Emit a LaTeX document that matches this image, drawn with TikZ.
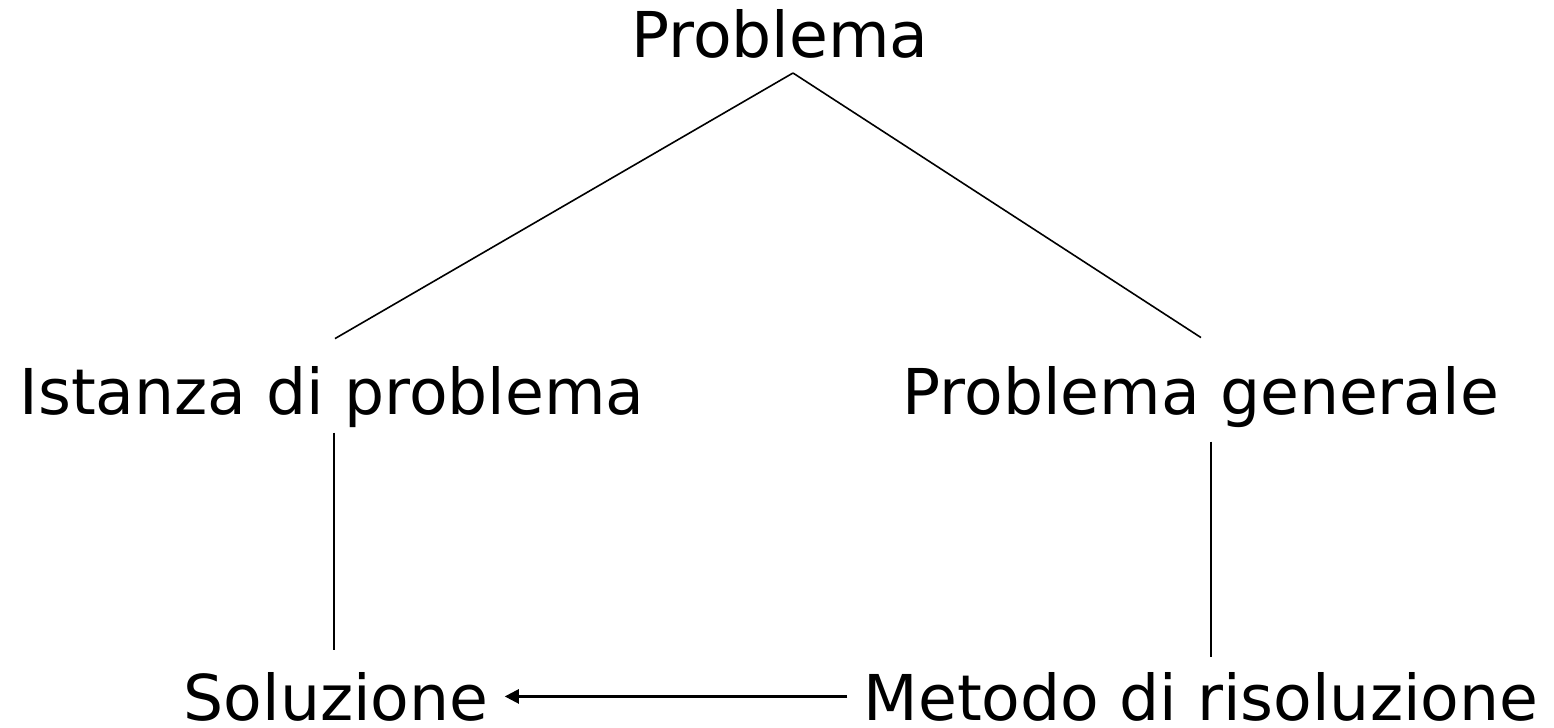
\documentclass[tikz,border=0pt]{standalone}
\usepackage{fontspec}
\setmainfont{DejaVu Sans}
\usetikzlibrary{arrows.meta}
\begin{document}
\begin{tikzpicture}[x=0.5pt, y=-0.5pt,
	lbl/.style={inner sep=0pt, anchor=base, font=\fontsize{31.6}{38}\selectfont},
	link/.style={line width=0.8pt}]
	\useasboundingbox (0,0) rectangle (1554,728);

	\node[lbl] (prob) at (780,57) {Problema};
	\node[lbl] (ist) at (332,414) {Istanza di problema};
	\node[lbl] (gen) at (1201,414) {Problema generale};
	\node[lbl] (sol) at (336,720) {Soluzione};
	\node[lbl] (met) at (1201,720) {Metodo di risoluzione};
	\coordinate (apex) at (793,73);

	\draw[link] (apex) -- ([xshift=1.5pt, yshift=13.5pt]ist.north);
	\draw[link] (apex) -- ([yshift=14pt]gen.north);
	\draw[link, shorten <=2.5pt, shorten >=11pt] ([xshift=1pt]ist.south) -- ([xshift=1pt]ist.south |- sol.north);
	\draw[link, shorten <=7pt, shorten >=7.5pt] ([xshift=5pt]gen.south) -- ([xshift=5pt]gen.south |- met.north);
	\draw[line width=1.2pt, -{Triangle[length=7pt, width=7pt]}, shorten <=8pt, shorten >=8pt] (met.west) -- (sol.east);
\end{tikzpicture}
\end{document}
